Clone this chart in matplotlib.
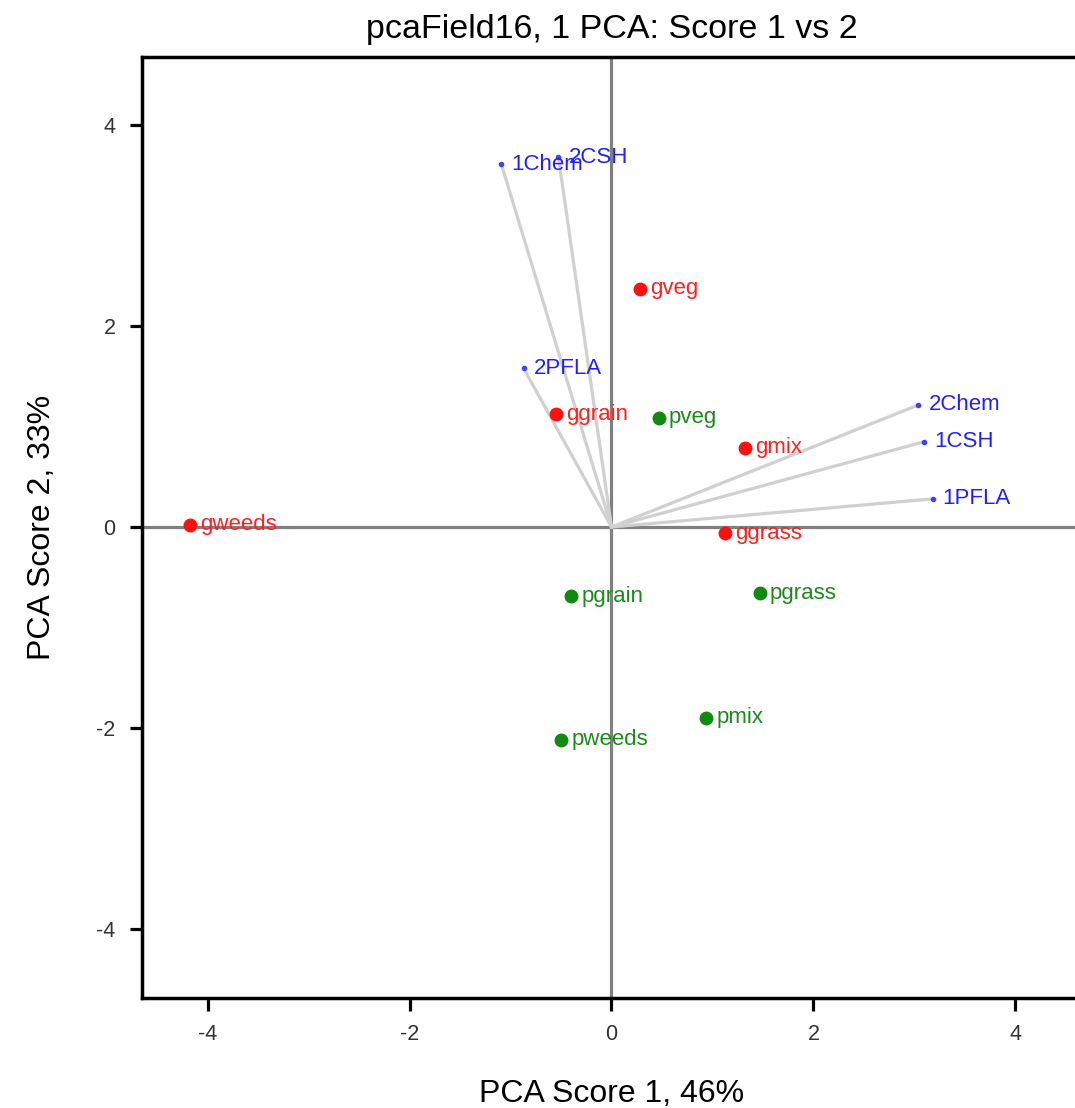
import matplotlib.pyplot as plt

plt.rcParams['font.family'] = ['Liberation Sans', 'DejaVu Sans']
plt.rcParams['axes.unicode_minus'] = False

# sample scores
g_names = ["gweeds", "ggrain", "gveg", "gmix", "ggrass"]
g_x = [-4.17, -0.545, 0.28, 1.32, 1.12]
g_y = [0.02, 1.125, 2.37, 0.79, -0.06]

p_names = ["pveg", "pgrain", "pgrass", "pmix", "pweeds"]
p_x = [0.47, -0.40, 1.47, 0.94, -0.50]
p_y = [1.09, -0.69, -0.66, -1.90, -2.12]

# loadings (vectors from origin)
v_names = ["1Chem", "2CSH", "2PFLA", "2Chem", "1CSH", "1PFLA"]
v_x = [-1.09, -0.525, -0.87, 3.04, 3.10, 3.18]
v_y = [3.61, 3.68, 1.58, 1.215, 0.85, 0.28]

ticks = [-4, -2, 0, 2, 4]

fig = plt.figure(figsize=(10.75, 11.08), dpi=100)
ax = fig.add_axes([142 / 1075, 1 - 998 / 1108, 939 / 1075, 941 / 1108])

ax.axhline(0, color="#808080", lw=2.3, zorder=1)
ax.axvline(0, color="#808080", lw=2.3, zorder=1)

for x, y, n in zip(v_x, v_y, v_names):
    ax.plot([0, x], [0, y], color="#d0d0d0", lw=2.3, zorder=2)
    ax.plot(x, y, "o", color="#4040ff", ms=3, zorder=3)
    ax.text(x + 0.1, y, n, color="#2020ff", fontsize=16, va="center", zorder=4)

ax.plot(g_x, g_y, "o", color="#ff1010", ms=9, ls="none", zorder=3)
for x, y, n in zip(g_x, g_y, g_names):
    ax.text(x + 0.1, y, n, color="#ff2020", fontsize=16, va="center", zorder=4)

ax.plot(p_x, p_y, "o", color="#108a10", ms=9, ls="none", zorder=3)
for x, y, n in zip(p_x, p_y, p_names):
    ax.text(x + 0.1, y, n, color="#1a8a1a", fontsize=16, va="center", zorder=4)

ax.set_xlim(-4.65, 4.65)
ax.set_ylim(-4.69, 4.68)
ax.set_xticks(ticks)
ax.set_yticks(ticks)
ax.set_xticklabels([str(t) for t in ticks])
ax.set_yticklabels([str(t) for t in ticks])
ax.tick_params(direction="out", length=9, width=2.3, labelsize=15.5,
               labelcolor="#333333", pad=10)
for s in ax.spines.values():
    s.set_linewidth(2.5)

ax.set_title("pcaField16, 1 PCA: Score 1 vs 2", fontsize=24.5, pad=14)
ax.set_xlabel("PCA Score 1, 46%", fontsize=23, labelpad=24)
ax.set_ylabel("PCA Score 2, 33%", fontsize=23, labelpad=28)

fig.savefig("out.png", dpi=100)
